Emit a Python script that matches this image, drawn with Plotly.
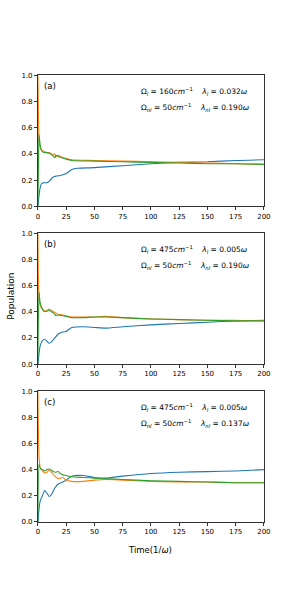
import plotly.graph_objects as go

# ---------------- data ----------------
# Panel (a)
a_blue_t = [0, 1, 2, 3, 5, 8, 10, 13, 16, 20, 25, 30, 35, 50, 75, 100, 125, 150, 175, 200]
a_blue_v = [0, 0.08, 0.14, 0.17, 0.18, 0.18, 0.19, 0.22, 0.23, 0.235, 0.25, 0.28, 0.29, 0.295, 0.31, 0.325, 0.335, 0.34, 0.35, 0.355]
a_orange_t = [0, 0.5, 1, 2, 3, 5, 8, 10, 13, 15, 16, 18, 20, 25, 30, 50, 75, 100, 125, 150, 175, 200]
a_orange_v = [1.0, 0.7, 0.5, 0.45, 0.43, 0.42, 0.41, 0.41, 0.395, 0.40, 0.38, 0.39, 0.38, 0.365, 0.355, 0.35, 0.345, 0.34, 0.335, 0.33, 0.325, 0.32]
a_green_t = [0, 0.5, 1, 2, 3, 5, 8, 10, 13, 15, 16, 18, 20, 25, 30, 50, 75, 100, 125, 150, 175, 200]
a_green_v = [0, 0.3, 0.55, 0.47, 0.43, 0.41, 0.41, 0.405, 0.39, 0.37, 0.39, 0.38, 0.375, 0.36, 0.35, 0.345, 0.34, 0.335, 0.33, 0.325, 0.325, 0.32]

# Panel (b)
b_blue_t = [0, 1, 2, 4, 6, 8, 10, 12, 15, 18, 22, 25, 30, 40, 50, 60, 75, 100, 125, 150, 175, 200]
b_blue_v = [0, 0.08, 0.14, 0.18, 0.19, 0.175, 0.16, 0.17, 0.20, 0.23, 0.245, 0.25, 0.28, 0.285, 0.28, 0.275, 0.285, 0.30, 0.31, 0.32, 0.33, 0.335]
b_orange_t = [0, 1, 2, 4, 6, 8, 10, 12, 14, 16, 18, 22, 25, 30, 40, 50, 60, 75, 100, 125, 150, 175, 200]
b_orange_v = [1.0, 0.5, 0.45, 0.42, 0.405, 0.41, 0.42, 0.41, 0.40, 0.39, 0.38, 0.375, 0.37, 0.36, 0.36, 0.36, 0.365, 0.355, 0.345, 0.34, 0.335, 0.335, 0.33]
b_green_t = [0, 1, 2, 4, 6, 8, 10, 12, 14, 16, 18, 22, 25, 30, 40, 50, 60, 75, 100, 125, 150, 175, 200]
b_green_v = [0, 0.55, 0.47, 0.42, 0.40, 0.405, 0.41, 0.40, 0.39, 0.37, 0.375, 0.37, 0.365, 0.355, 0.355, 0.36, 0.36, 0.355, 0.345, 0.34, 0.335, 0.33, 0.33]

# Panel (c)
c_blue_t = [0, 1, 2, 4, 6, 8, 10, 12, 15, 18, 22, 25, 30, 40, 50, 60, 75, 100, 125, 150, 175, 200]
c_blue_v = [0, 0.10, 0.16, 0.20, 0.24, 0.22, 0.195, 0.21, 0.26, 0.29, 0.305, 0.32, 0.35, 0.355, 0.34, 0.335, 0.35, 0.37, 0.38, 0.385, 0.39, 0.40]
c_orange_t = [0, 1, 2, 4, 6, 8, 10, 12, 15, 18, 20, 22, 25, 30, 40, 50, 60, 75, 100, 125, 150, 175, 200]
c_orange_v = [1.0, 0.5, 0.42, 0.39, 0.375, 0.38, 0.395, 0.38, 0.35, 0.33, 0.335, 0.34, 0.32, 0.31, 0.31, 0.32, 0.325, 0.32, 0.31, 0.305, 0.305, 0.30, 0.30]
c_green_t = [0, 1, 2, 4, 6, 8, 10, 12, 15, 18, 20, 22, 25, 30, 40, 50, 60, 75, 100, 125, 150, 175, 200]
c_green_v = [0, 0.44, 0.41, 0.40, 0.39, 0.40, 0.405, 0.395, 0.38, 0.385, 0.37, 0.36, 0.355, 0.345, 0.34, 0.335, 0.33, 0.325, 0.315, 0.31, 0.305, 0.30, 0.30]

panel_labels = ["(a)", "(b)", "(c)"]
omega_l = ["160", "475", "475"]
lambda_l = ["0.032", "0.005", "0.005"]
omega_nl = ["50", "50", "50"]
lambda_nl = ["0.190", "0.190", "0.137"]
x_ticks = [0, 25, 50, 75, 100, 125, 150, 175, 200]
y_ticks = [0.0, 0.2, 0.4, 0.6, 0.8, 1.0]

panels = [
    [(a_blue_t, a_blue_v), (a_orange_t, a_orange_v), (a_green_t, a_green_v)],
    [(b_blue_t, b_blue_v), (b_orange_t, b_orange_v), (b_green_t, b_green_v)],
    [(c_blue_t, c_blue_v), (c_orange_t, c_orange_v), (c_green_t, c_green_v)],
]
colors = ["#1f77b4", "#ff7f0e", "#2ca02c"]

W, H = 300, 600
def px(x):
    return x / W
def py(y):
    return 1 - y / H

x_dom = [px(37), px(270)]
y_pix = [(72.3, 205), (232.3, 365), (392.3, 525)]

fig = go.Figure()
FONT = "DejaVu Sans"
layout = dict(
    width=W, height=H, margin=dict(l=0, r=0, t=0, b=0),
    paper_bgcolor="white", plot_bgcolor="white", showlegend=False,
    font=dict(family=FONT, size=7, color="black"),
)
annotations = []
for i, series in enumerate(panels):
    n = "" if i == 0 else str(i + 1)
    xa, ya = "x" + n, "y" + n
    for (t, v), c in zip(series, colors):
        fig.add_trace(go.Scatter(x=t, y=v, mode="lines", line=dict(color=c, width=1.1, shape="spline", smoothing=0.6),
                                 xaxis=xa, yaxis=ya, hoverinfo="skip"))
    top, bot = y_pix[i]
    axis_common = dict(showline=True, linecolor="#333333", linewidth=0.8, mirror=True, ticks="outside",
                       ticklen=3, tickwidth=0.8, tickcolor="#333333", showgrid=False, zeroline=False,
                       tickfont=dict(family=FONT, size=7, color="black"))
    layout["xaxis" + n] = dict(domain=x_dom, range=[0, 200], tickvals=x_ticks, anchor=ya, **axis_common)
    layout["yaxis" + n] = dict(domain=[py(bot), py(top)], range=[0, 1], tickvals=y_ticks,
                               tickformat=".1f", anchor=xa, **axis_common)
    annotations.append(dict(xref="paper", yref="paper", x=px(41), y=py(top + 4), xanchor="left", yanchor="top",
                            text=panel_labels[i], showarrow=False, font=dict(size=8.5)))
    annotations.append(dict(xref="paper", yref="paper", x=px(141), y=py(top + 16.5), xanchor="left", yanchor="middle",
                            text=f"Ω<sub><i>l</i></sub> = {omega_l[i]}<i>cm</i><sup>−1</sup>&nbsp;&nbsp;&nbsp;&nbsp;<i>λ<sub>l</sub></i> = {lambda_l[i]}<i>ω</i>",
                            showarrow=False, font=dict(size=7.5)))
    annotations.append(dict(xref="paper", yref="paper", x=px(141), y=py(top + 33), xanchor="left", yanchor="middle",
                            text=f"Ω<sub><i>nl</i></sub> = {omega_nl[i]}<i>cm</i><sup>−1</sup>&nbsp;&nbsp;&nbsp;&nbsp;<i>λ<sub>nl</sub></i> = {lambda_nl[i]}<i>ω</i>",
                            showarrow=False, font=dict(size=7.5)))

annotations.append(dict(xref="paper", yref="paper", x=px(153), y=py(553), xanchor="center", yanchor="middle",
                        text="Time(1/<i>ω</i>)", showarrow=False, font=dict(size=8.5)))
annotations.append(dict(xref="paper", yref="paper", x=px(9), y=py(296), xanchor="center", yanchor="middle",
                        text="Population", textangle=-90, showarrow=False, font=dict(size=9)))
layout["annotations"] = annotations
fig.update_layout(**layout)
fig.write_html("out.html", post_script="document.body.style.margin='0';",
               config={"displayModeBar": False})
